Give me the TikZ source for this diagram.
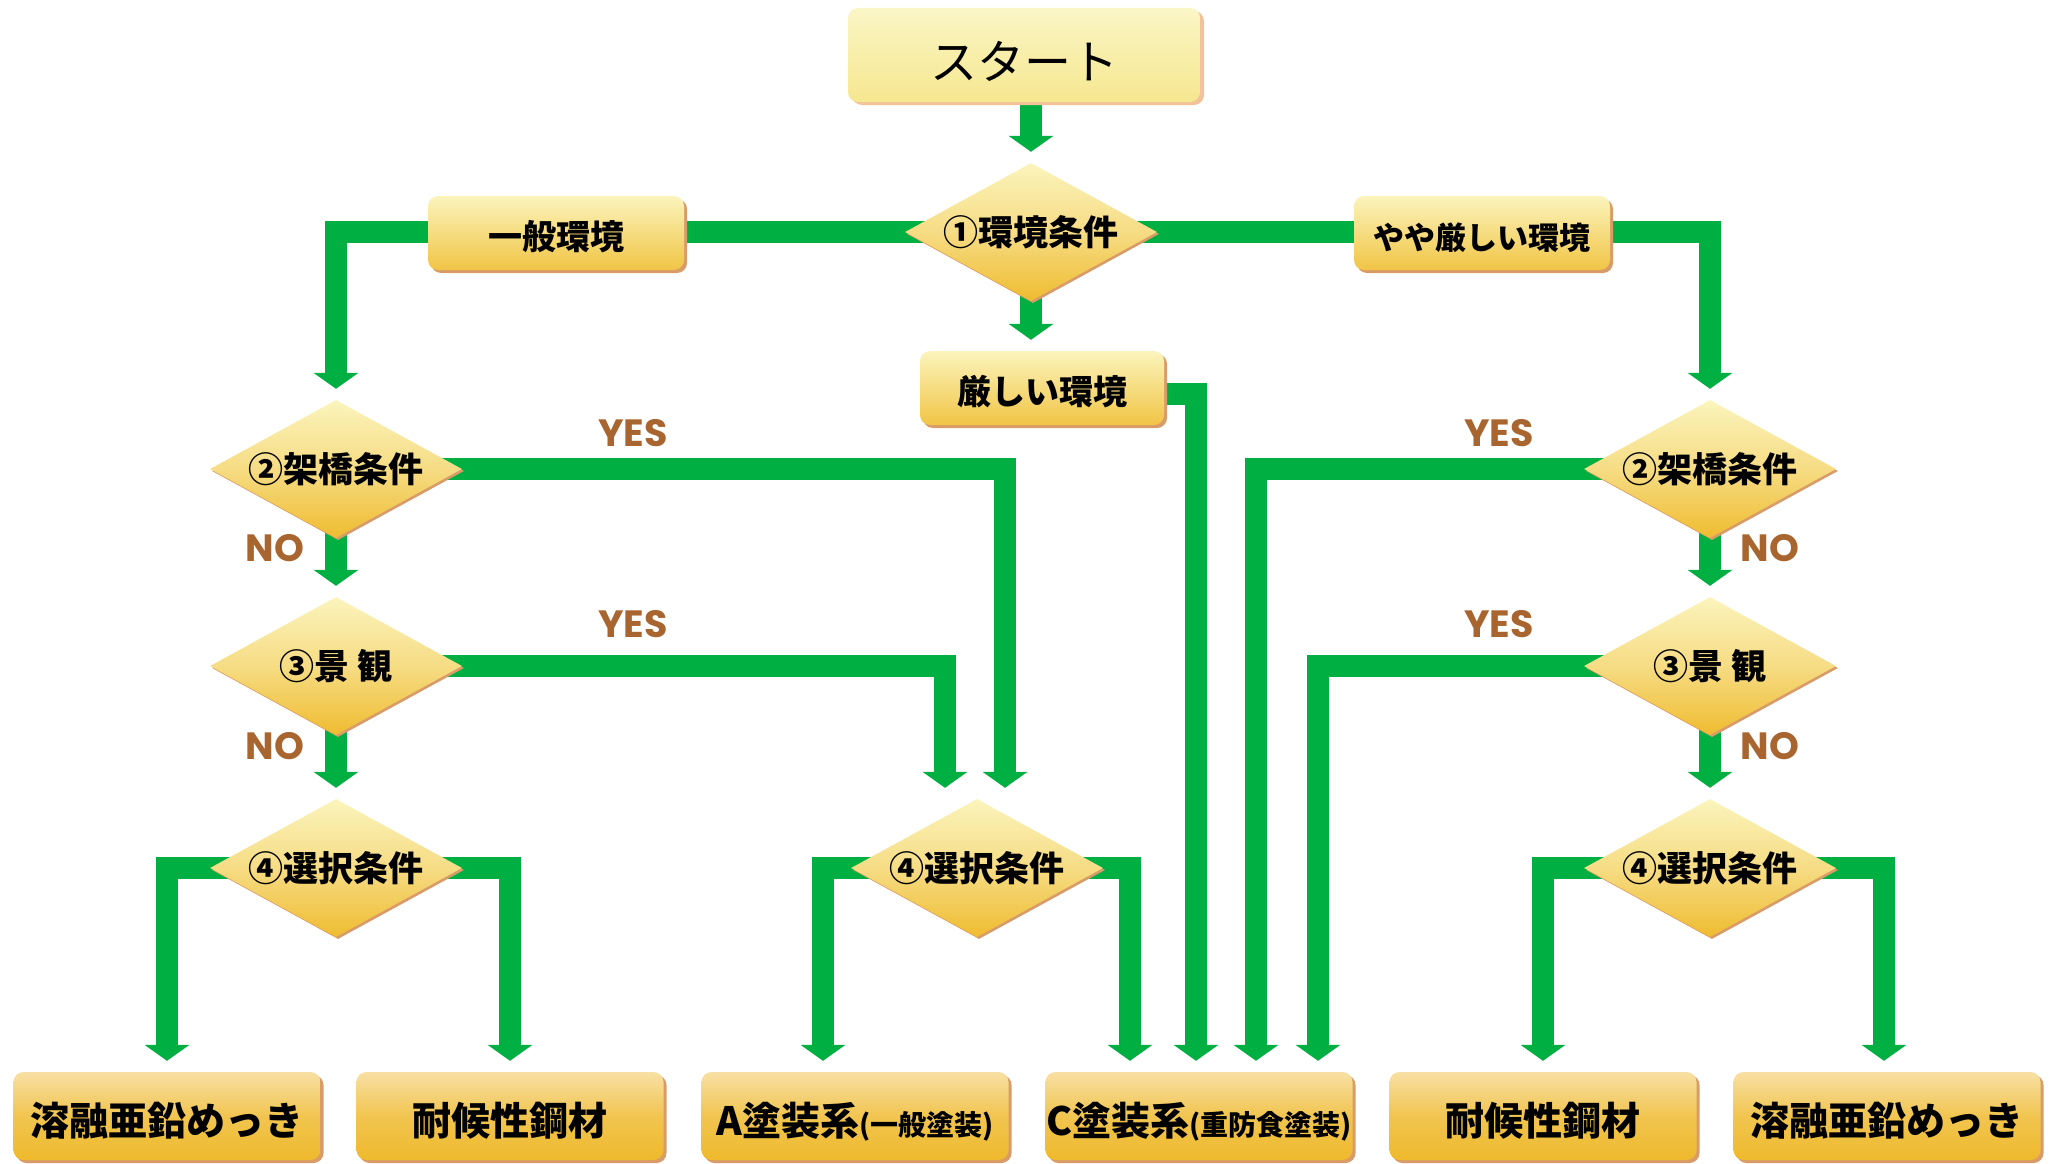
\documentclass[tikz,border=0pt]{standalone}
\usepackage{fontspec}
\setmainfont{Noto Sans CJK JP}
\newfontfamily\yesfont{Poppins}
\usetikzlibrary{arrows.meta,shapes.geometric,shadows}
\definecolor{flowgreen}{HTML}{00AF41}
\definecolor{ynbrown}{HTML}{A9652F}
\definecolor{shadowtan}{HTML}{D99C68}
\definecolor{shadowpeach}{HTML}{F3C29A}
\definecolor{creamtop}{HTML}{FBF4BC}
\definecolor{goldbot}{HTML}{EFBC30}
\definecolor{goldmid}{HTML}{F6DC84}
\definecolor{starttop}{HTML}{FAF6C6}
\definecolor{startbot}{HTML}{F6E78F}
\definecolor{endtop}{HTML}{F8E0A4}
\definecolor{endbot}{HTML}{EEB92C}
\pgfdeclarelayer{bg}
\pgfsetlayers{bg,main}
\tikzset{
  flow/.style={line width=22pt, draw=flowgreen,
    -{Triangle[width=45pt,length=16pt,line width=0pt]}, shorten >=11pt},
  startbox/.style={rectangle, rounded corners=10pt, inner sep=0pt,
    minimum width=352pt, minimum height=94pt,
    top color=starttop, bottom color=startbot,
    general shadow={fill=shadowpeach, shadow xshift=4pt, shadow yshift=-3pt},
    text height=49pt, text depth=0pt,
    font=\fontsize{47}{50}\selectfont},
  envbox/.style={rectangle, rounded corners=10pt, inner sep=0pt,
    minimum height=74pt,
    top color=creamtop, bottom color=goldbot!85!creamtop,
    general shadow={fill=shadowtan, shadow xshift=3pt, shadow yshift=-3pt},
    text height=33pt, text depth=0pt,
    font=\fontsize{34}{36}\selectfont\bfseries},
  dia/.style={diamond, shape aspect=1.83, inner sep=0pt,
    minimum width=252pt, minimum height=138pt,
    top color=creamtop, bottom color=goldbot, middle color=goldmid,
    general shadow={fill=shadowtan, shadow xshift=2pt, shadow yshift=-2pt},
    font=\fontsize{35}{36}\selectfont\bfseries},
  endbox/.style={rectangle, rounded corners=10pt, inner sep=0pt,
    minimum width=307pt, minimum height=88pt,
    top color=endtop, bottom color=endbot, middle color=endbot!70!endtop,
    general shadow={fill=shadowtan, shadow xshift=3pt, shadow yshift=-3pt},
    text height=39pt, text depth=0pt,
    font=\fontsize{39}{42}\selectfont\bfseries},
  yn/.style={text=ynbrown, inner sep=0pt, font=\yesfont\bfseries\fontsize{38}{40}\selectfont}
}
\begin{document}
\begin{tikzpicture}[x=1pt,y=-1pt]
\useasboundingbox (0,0) rectangle (2056,1164);
% nodes
\node[startbox] (start) at (1024,55) {スタート};
\node[dia] (d1) at (1031,232) {①環境条件};
\node[envbox, minimum width=256pt] (ippan) at (556,233) {一般環境};
\node[envbox, minimum width=256pt, font=\fontsize{31}{36}\selectfont\bfseries] (yaya) at (1482,233) {やや厳しい環境};
\node[envbox, minimum width=244pt] (kib) at (1042,388) {厳しい環境};
\node[dia] (d2l) at (336,469) {②架橋条件};
\node[dia] (d3l) at (336,666) {③景 観};
\node[dia] (d4l) at (336,868) {④選択条件};
\node[dia] (d2r) at (1710,469) {②架橋条件};
\node[dia] (d3r) at (1710,666) {③景 観};
\node[dia] (d4r) at (1710,868) {④選択条件};
\node[dia] (d4m) at (977,868) {④選択条件};
\node[endbox] (e1) at (167,1116) {溶融亜鉛めっき};
\node[endbox] (e2) at (510,1116) {耐候性鋼材};
\node[endbox] (e3) at (855,1116) {A塗装系{\fontsize{28}{30}\selectfont(一般塗装)}};
\node[endbox] (e4) at (1199,1116) {C塗装系{\fontsize{28}{30}\selectfont(重防食塗装)}};
\node[endbox] (e5) at (1543,1116) {耐候性鋼材};
\node[endbox] (e6) at (1887,1116) {溶融亜鉛めっき};
\node[yn] (yes1) at (633,433) {YES};
\node[yn] (yes2) at (633,624) {YES};
\node[yn] (yes3) at (1499,433) {YES};
\node[yn] (yes4) at (1499,624) {YES};
\node[yn] (no1) at (275,548) {NO};
\node[yn] (no2) at (275,746) {NO};
\node[yn] (no3) at (1770,548) {NO};
\node[yn] (no4) at (1770,746) {NO};
% connectors
\begin{pgfonlayer}{bg}
\draw[flow] (d1.north |- start.south) -- (d1.north);
\draw[flow] (d1.center) -| (d2l.north);
\draw[flow] (d1.center) -| (d2r.north);
\draw[flow] (d1.center) -- (d1.center |- kib.north);
\draw[flow] ([yshift=-6pt]kib.center) -| ([xshift=-3pt]e4.north);
\draw[flow] (d2l.center) -- (d3l.north);
\draw[flow] (d3l.center) -- (d4l.north);
\draw[flow] (d2r.center) -- (d3r.north);
\draw[flow] (d3r.center) -- (d4r.north);
\draw[flow] (d2l.center) -| ([xshift=28pt]d4m.north);
\draw[flow] (d3l.center) -| ([xshift=-32pt]d4m.north);
\draw[flow] (d2r.center) -| ([xshift=57pt]e4.north);
\draw[flow] (d3r.center) -| ([xshift=119pt]e4.north);
\draw[flow] (d4l.center) -| (e1.north);
\draw[flow] (d4l.center) -| (e2.north);
\draw[flow] (d4m.center) -| ([xshift=-32pt]e3.north);
\draw[flow] (d4m.center) -| ([xshift=-69pt]e4.north);
\draw[flow] (d4r.center) -| (e5.north);
\draw[flow] (d4r.center) -| ([xshift=-3pt]e6.north);
\end{pgfonlayer}
\end{tikzpicture}
\end{document}
